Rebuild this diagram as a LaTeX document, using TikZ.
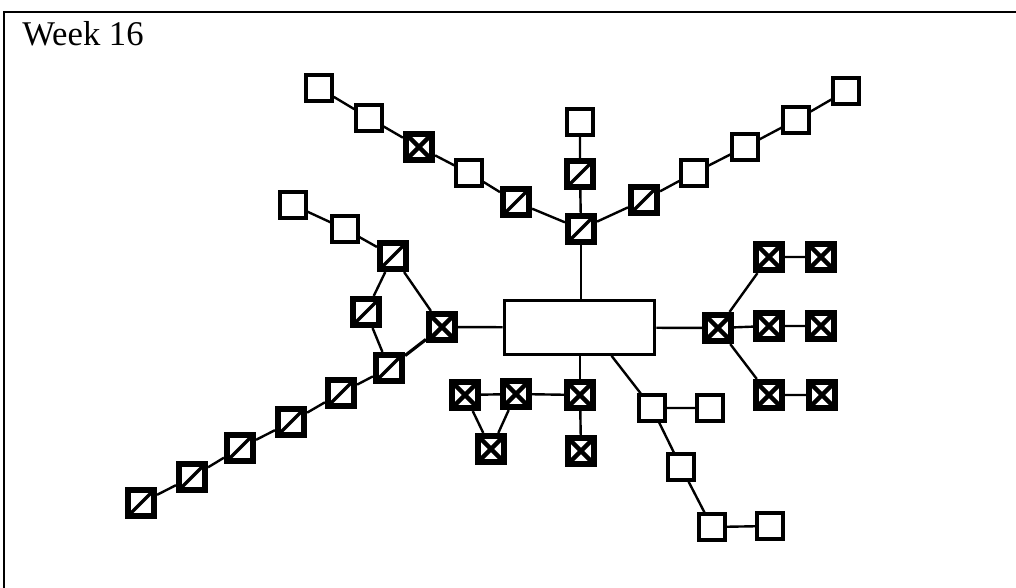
\documentclass[tikz,border=0pt]{standalone}
\usepackage{fontspec}
\setmainfont{Liberation Serif}
\begin{document}
\begin{tikzpicture}[x=0.75pt,y=-0.75pt,
  sq/.style={draw, line width=2.5pt, minimum size=19.5pt, inner sep=0pt},
  hsq/.style={draw, line width=4.6pt, minimum size=19.5pt, inner sep=0pt,
    path picture={\draw[line width=2.6pt] (path picture bounding box.south west) -- (path picture bounding box.north east);}},
  xsq/.style={draw, line width=4.6pt, minimum size=19.5pt, inner sep=0pt,
    path picture={\draw[line width=3.4pt] (path picture bounding box.south west) -- (path picture bounding box.north east)
      (path picture bounding box.north west) -- (path picture bounding box.south east);}},
  mainbox/.style={draw, line width=2.4pt, minimum width=113pt, minimum height=40pt, inner sep=0pt},
  link/.style={line width=1.8pt},
  frame/.style={line width=1.6pt}]
\useasboundingbox (0,0) rectangle (1016,588);
% frame (only top and left edges visible)
\coordinate (fa) at (4,588);
\coordinate (fb) at (4,12);
\coordinate (fc) at (1016,12);
\draw[frame] (fa) -- (fb) -- (fc);
\node[anchor=base west, font=\fontsize{26}{30}\selectfont, inner sep=0pt] (title) at (22,46) {Week 16};
% main box
\node[mainbox] (main) at (579.5,327.5) {};
% top-left chain
\node[sq] (A1) at (319,88) {};
\node[sq] (A2) at (369,118) {};
\node[xsq] (A3) at (419,147) {};
\node[sq] (A4) at (469,173) {};
\node[hsq] (A5) at (516,202) {};
\node[hsq] (H) at (581,229) {};
\node[sq] (T1) at (580,122) {};
\node[hsq] (T2) at (580,174) {};
% top-right chain
\node[hsq] (B1) at (644,200) {};
\node[sq] (B2) at (694,173) {};
\node[sq] (B3) at (745,147) {};
\node[sq] (B4) at (796,120) {};
\node[sq] (B5) at (846,91) {};
% left cluster
\node[sq] (C1) at (293,205) {};
\node[sq] (C2) at (345,229) {};
\node[hsq] (C3) at (393,256) {};
\node[hsq] (C4) at (366,312) {};
\node[xsq] (C5) at (442,327) {};
\node[hsq] (C6) at (389,368) {};
\node[hsq] (D1) at (341,393) {};
\node[hsq] (D2) at (291,422) {};
\node[hsq] (D3) at (240,448) {};
\node[hsq] (D4) at (192,477) {};
\node[hsq] (D5) at (141,503) {};
% lower middle cluster
\node[xsq] (E1) at (465,395) {};
\node[xsq] (E2) at (516,394) {};
\node[xsq] (E3) at (580,395) {};
\node[xsq] (E4) at (491,449) {};
\node[xsq] (E5) at (581,451) {};
% lower right plain chain
\node[sq] (F1) at (652,408) {};
\node[sq] (F2) at (710,408) {};
\node[sq] (F3) at (681,467) {};
\node[sq] (F4) at (712,527) {};
\node[sq] (F5) at (770,526) {};
% right cluster
\node[xsq] (G0) at (718,328) {};
\node[xsq] (G1) at (769,257) {};
\node[xsq] (G2) at (821,257) {};
\node[xsq] (G3) at (769,326) {};
\node[xsq] (G4) at (821,326) {};
\node[xsq] (G5) at (769,395) {};
\node[xsq] (G6) at (822,395) {};
% links
\draw[link] (A1) -- (A2) (A2) -- (A3) (A3) -- (A4) (A4) -- (A5) (A5) -- (H);
\draw[link] (T1) -- (T2) (T2) -- (H);
\draw[link] (H) -- (B1) (B1) -- (B2) (B2) -- (B3) (B3) -- (B4) (B4) -- (B5);
\draw[link] (H) -- (H |- main.north);
\draw[link] (C1) -- (C2) (C2) -- (C3) (C3) -- (C4) (C3) -- (C5) (C4) -- (C6);
\draw[line width=2.4pt] (C5) -- (C6);
\draw[link] (C6) -- (D1) (D1) -- (D2) (D2) -- (D3) (D3) -- (D4) (D4) -- (D5);
\draw[link] (C5) -- (main);
\draw[link] (E3 |- main.south) -- (E3);
\draw[link] (E1) -- (E2) (E2) -- (E3) (E1) -- (E4) (E2) -- (E4) (E3) -- (E5);
\draw[link] ([xshift=24pt]main.south) -- (F1);
\draw[link] (F1) -- (F2) (F1) -- (F3) (F3) -- (F4) (F4) -- (F5);
\draw[link] (main) -- (G0);
\draw[link] (G0) -- (G1) (G0) -- (G3) (G0) -- (G5) (G1) -- (G2) (G3) -- (G4) (G5) -- (G6);
\end{tikzpicture}
\end{document}
